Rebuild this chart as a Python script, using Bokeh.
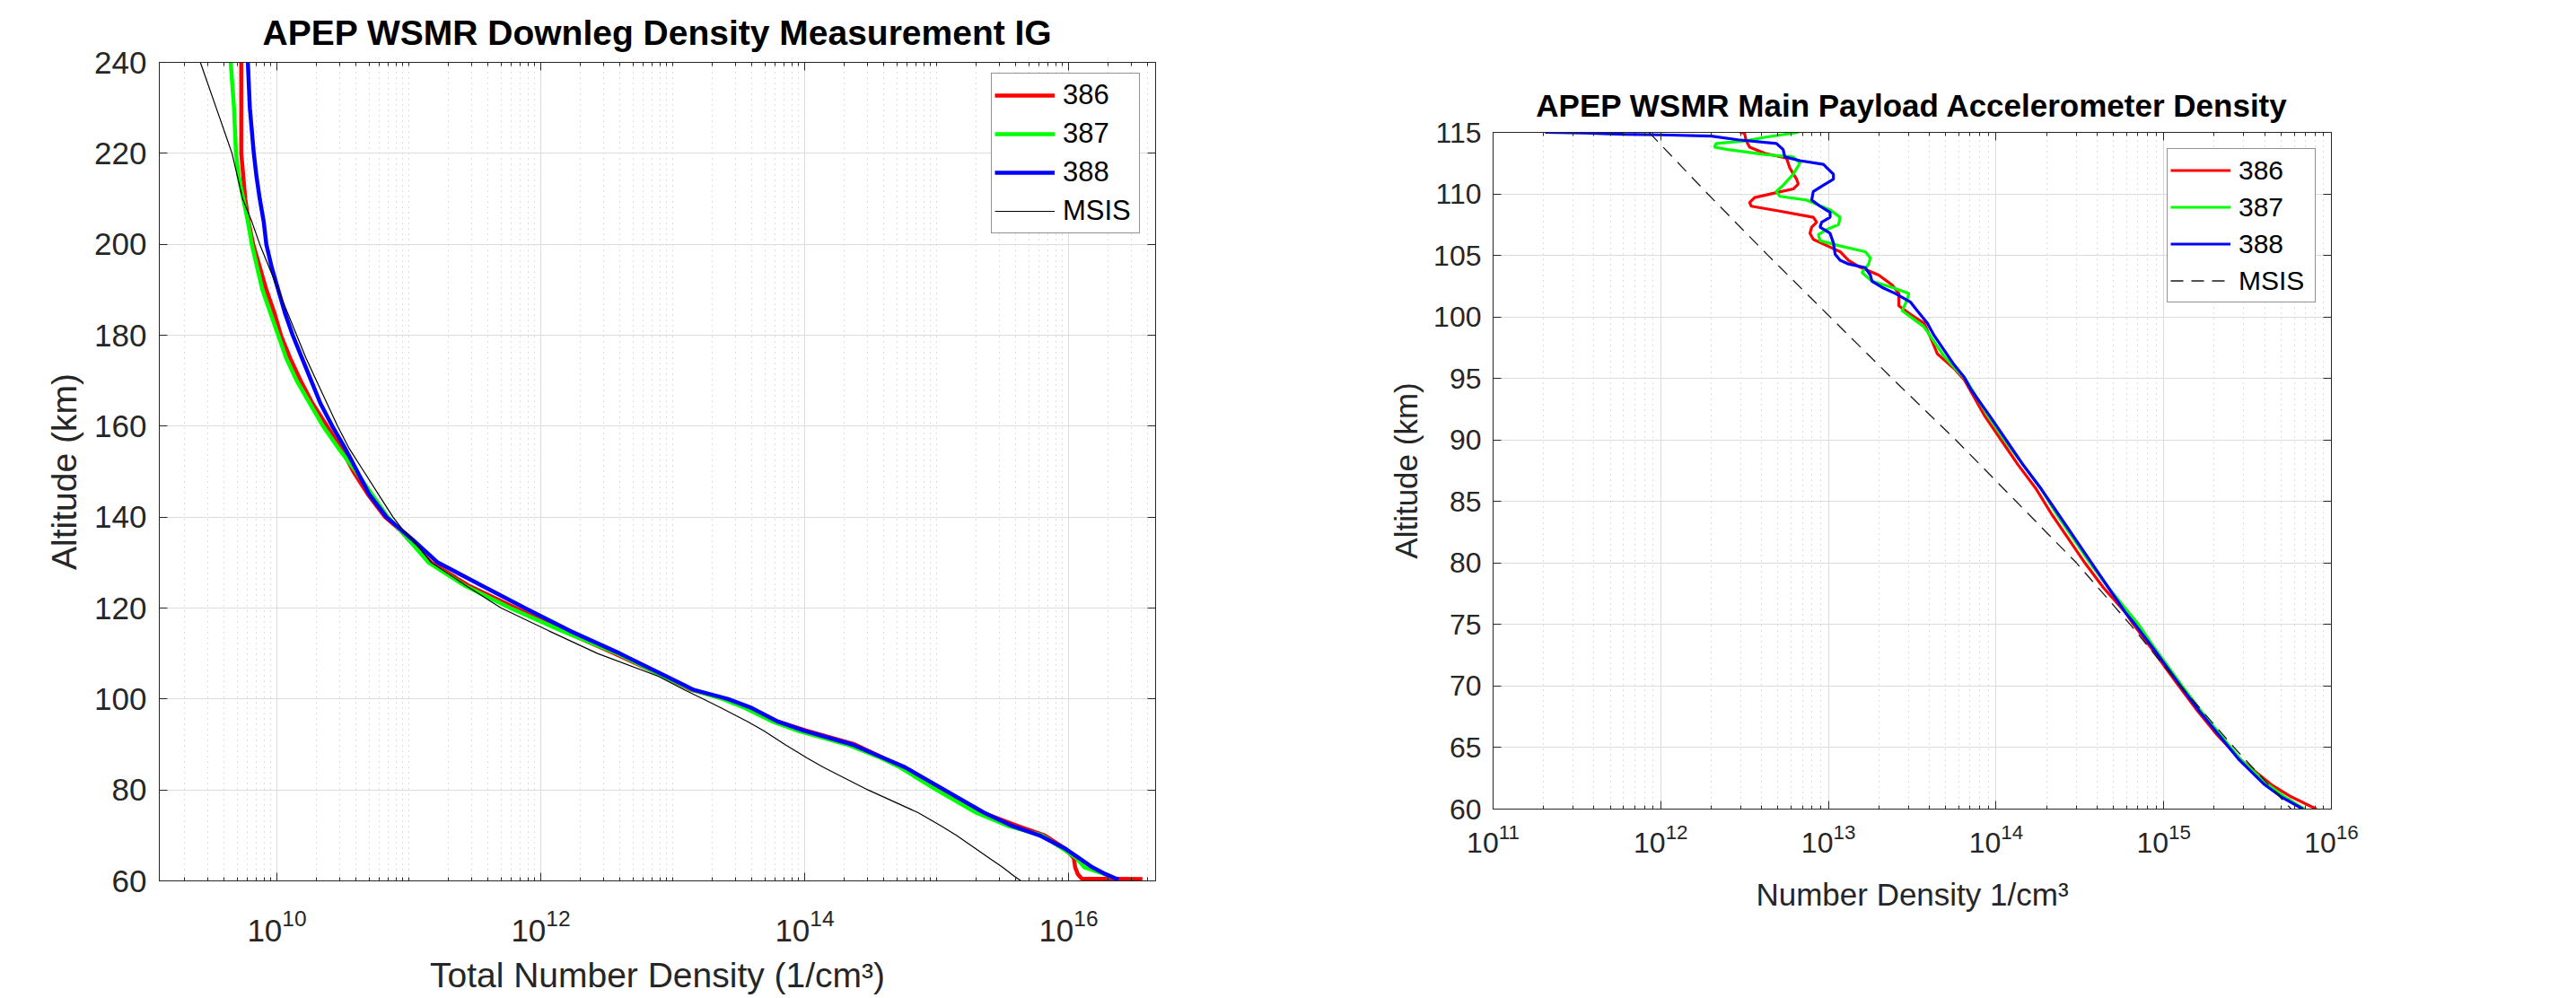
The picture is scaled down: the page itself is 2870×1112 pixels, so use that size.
from bokeh.plotting import figure
from bokeh.models import (Range1d, FixedTicker, LogAxis, LinearAxis, Legend,
                          LegendItem, CustomJSTickFormatter)
from bokeh.layouts import row
from bokeh.embed import file_html
from bokeh.resources import INLINE

FONT = "Liberation Sans"
AX = "#262626"

# ---------------- Left chart: ion gauge downleg density ----------------
# altitude (km) and log10 of total number density (1/cm^3)
ig_alt = [240, 230, 220, 215, 210, 205, 200, 195, 190, 185, 180, 175, 170, 165,
          160, 155, 150, 145, 140, 137, 135, 130, 125, 120, 115, 110, 105, 102,
          100, 98, 95, 93, 90, 87, 85, 80, 75, 72, 70, 67, 65]
ig_log_386 = [9.73, 9.73, 9.73, 9.745, 9.76, 9.785, 9.82, 9.87, 9.92, 9.98, 10.03,
              10.10, 10.18, 10.27, 10.38, 10.49, 10.58, 10.69, 10.82, 10.94, 11.0,
              11.17, 11.45, 11.81, 12.17, 12.56, 12.93, 13.14, 13.40, 13.58, 13.80,
              14.02, 14.38, 14.60, 14.75, 15.04, 15.35, 15.62, 15.82, 15.98, 16.04]
ig_log_387 = [9.65, 9.675, 9.69, 9.71, 9.745, 9.78, 9.81, 9.85, 9.89, 9.95, 10.01,
              10.07, 10.15, 10.25, 10.35, 10.47, 10.60, 10.72, 10.84, 10.94, 11.0,
              11.15, 11.42, 11.77, 12.16, 12.58, 12.93, 13.15, 13.38, 13.55, 13.76,
              13.95, 14.32, 14.58, 14.72, 15.00, 15.30, 15.55, 15.80, 15.96, 16.06]
ig_log_388 = [9.78, 9.795, 9.825, 9.845, 9.87, 9.90, 9.92, 9.96, 10.01, 10.06, 10.12,
              10.19, 10.26, 10.33, 10.42, 10.52, 10.61, 10.70, 10.83, 10.95, 11.03,
              11.22, 11.55, 11.88, 12.22, 12.60, 12.95, 13.16, 13.42, 13.60, 13.80,
              14.00, 14.36, 14.60, 14.76, 15.06, 15.36, 15.58, 15.78, 15.98, 16.08]
# lowest samples (below 65 km) for each flight
ig_tail_alt_386 = [63, 61.5, 60.5, 60.4]
ig_tail_log_386 = [16.05, 16.07, 16.10, 16.56]
ig_tail_alt_387 = [63, 61.2, 60.8]
ig_tail_log_387 = [16.12, 16.30, 16.33]
ig_tail_alt_388 = [63, 61.5, 60.5, 60.3]
ig_tail_log_388 = [16.18, 16.28, 16.36, 16.38]

ig_msis_alt = [240, 230, 220, 215, 210, 205, 200, 195, 190, 185, 180, 175, 170, 165,
               160, 155, 150, 145, 140, 137, 135, 130, 125, 120, 115, 110, 105, 102,
               100, 98, 95, 93, 90, 87, 85, 80, 75, 72, 70, 67, 65, 63, 61, 60]
ig_msis_log = [9.42, 9.54, 9.66, 9.70, 9.74, 9.81, 9.87, 9.94, 10.01, 10.08, 10.15,
               10.22, 10.30, 10.38, 10.46, 10.55, 10.66, 10.77, 10.88, 10.96, 11.03,
               11.17, 11.43, 11.70, 12.06, 12.43, 12.89, 13.09, 13.23, 13.37, 13.57,
               13.69, 13.85, 14.02, 14.14, 14.48, 14.86, 15.04, 15.15, 15.30, 15.40,
               15.50, 15.59, 15.64]

ig_xticks = [1e10, 1e12, 1e14, 1e16]
ig_yticks = [60, 80, 100, 120, 140, 160, 180, 200, 220, 240]

# ---------------- Right chart: accelerometer density ----------------
acc_alt_386 = [115.2, 114.9, 114.3, 113.8, 113.3, 112.9, 112.1, 111.2, 110.8, 110.4,
               110.1, 109.7, 109.3, 109.0, 108.6, 108.1, 107.7, 107.3, 106.8, 106.3,
               105.8, 105.3, 104.6, 104.1, 103.4, 102.6, 101.9, 100.9, 100.2, 99.5,
               98.3, 97.0, 95.8, 94.9, 92, 90, 88, 86, 84, 82, 80, 78, 76, 75, 73,
               70, 68, 66, 64, 62, 61, 60]
acc_log_386 = [12.44, 12.50, 12.51, 12.53, 12.62, 12.75, 12.77, 12.81, 12.82, 12.79,
               12.69, 12.56, 12.53, 12.54, 12.71, 12.91, 12.93, 12.90, 12.89, 12.91,
               12.99, 13.07, 13.12, 13.18, 13.30, 13.38, 13.42, 13.42, 13.49, 13.57,
               13.61, 13.65, 13.75, 13.81, 13.93, 14.03, 14.13, 14.24, 14.33, 14.43,
               14.53, 14.64, 14.77, 14.82, 14.93, 15.09, 15.20, 15.32, 15.46, 15.64,
               15.76, 15.91]
acc_alt_387 = [115.0, 114.6, 114.3, 114.1, 113.8, 113.6, 113.2, 113.0, 112.5, 111.6,
               110.7, 110.2, 109.8, 109.5, 108.7, 108.1, 107.5, 107.1, 106.7, 106.2,
               105.8, 105.3, 104.8, 104.3, 103.6, 102.9, 102.4, 101.9, 101.4, 100.5,
               100.0, 99.2, 98.0, 96.8, 95.6, 94.9, 92, 90, 88, 86, 84, 82, 80, 78,
               76, 75, 73, 70, 68, 66, 64, 62, 61, 60]
acc_log_387 = [12.82, 12.62, 12.50, 12.33, 12.32, 12.40, 12.62, 12.79, 12.83, 12.79,
               12.73, 12.69, 12.71, 12.87, 13.01, 13.07, 13.06, 12.99, 12.94, 12.95,
               13.06, 13.22, 13.25, 13.24, 13.20, 13.26, 13.38, 13.48, 13.47, 13.44,
               13.49, 13.57, 13.63, 13.69, 13.77, 13.82, 13.95, 14.05, 14.16, 14.27,
               14.36, 14.46, 14.56, 14.67, 14.79, 14.85, 14.95, 15.11, 15.22, 15.34,
               15.46, 15.62, 15.72, 15.84]
acc_alt_388 = [115.0, 114.95, 114.85, 114.8, 114.7, 114.4, 114.1, 113.6, 113.0, 112.7,
               112.4, 111.6, 111.2, 110.7, 110.2, 109.5, 109.0, 108.5, 108.1, 107.7,
               107.3, 106.8, 106.0, 105.1, 104.6, 104.3, 104.0, 103.4, 102.9, 102.4,
               101.9, 101.2, 100.5, 99.5, 98.5, 97.3, 96.1, 95.1, 94.1, 92, 90, 88,
               86, 84, 82, 80, 78, 76, 75, 73, 70, 68, 66, 64, 62, 61, 60]
acc_log_388 = [11.31, 11.54, 11.78, 12.0, 12.30, 12.46, 12.69, 12.73, 12.74, 12.83,
               12.97, 13.03, 13.03, 12.97, 12.91, 12.90, 12.95, 13.01, 13.01, 12.96,
               12.95, 13.01, 13.03, 13.04, 13.07, 13.12, 13.22, 13.25, 13.26, 13.32,
               13.40, 13.49, 13.53, 13.59, 13.63, 13.69, 13.75, 13.81, 13.85, 13.96,
               14.06, 14.16, 14.27, 14.37, 14.47, 14.57, 14.67, 14.77, 14.83, 14.94,
               15.10, 15.21, 15.33, 15.45, 15.60, 15.70, 15.83]
acc_msis_alt = [115, 110, 105, 100, 95, 90, 85, 80, 75, 70, 65, 60]
acc_msis_log = [11.93, 12.28, 12.64, 13.01, 13.38, 13.76, 14.12, 14.48, 14.80, 15.10,
                15.42, 15.76]

acc_xticks = [1e11, 1e12, 1e13, 1e14, 1e15, 1e16]
acc_yticks = [60, 65, 70, 75, 80, 85, 90, 95, 100, 105, 110, 115]

series_names = ["386", "387", "388", "MSIS"]
series_colors = ["#ff0000", "#00ff00", "#0000ff", "#000000"]


def dens(logs):
    return [10.0 ** v for v in logs]


def minor_ticks(e_lo, e_hi, majors):
    out = []
    for e in range(e_lo, e_hi + 1):
        for k in range(1, 10):
            t = k * 10.0 ** e
            if t not in majors:
                out.append(t)
    return out


def style(p, xt, yt, tick_px, lab_px, title_px, xstand, ystand, xlab_stand,
          ylab_stand, title_standoff):
    p.xaxis[0].ticker = xt
    p.xgrid[0].ticker = xt
    p.yaxis[0].ticker = yt
    p.ygrid[0].ticker = yt
    p.outline_line_color = AX
    p.outline_line_width = 1
    p.background_fill_color = "white"
    p.border_fill_color = "white"
    for ax in [p.xaxis[0], p.yaxis[0]]:
        ax.major_label_text_font = FONT
        ax.major_label_text_font_size = tick_px
        ax.major_label_text_color = AX
        ax.axis_label_text_font = FONT
        ax.axis_label_text_font_size = lab_px
        ax.axis_label_text_font_style = "normal"
        ax.axis_label_text_color = AX
        ax.axis_line_color = AX
        ax.major_tick_line_color = AX
        ax.minor_tick_line_color = AX
        ax.major_tick_in = 9
        ax.major_tick_out = 0
        ax.minor_tick_in = 4
        ax.minor_tick_out = 0
    p.yaxis[0].minor_tick_line_color = None
    p.xaxis[0].major_label_standoff = xstand
    p.yaxis[0].major_label_standoff = ystand
    p.xaxis[0].axis_label_standoff = xlab_stand
    p.yaxis[0].axis_label_standoff = ylab_stand
    # box ticks on top and right
    top = LogAxis(ticker=xt, formatter=CustomJSTickFormatter(code="return ''"),
                  major_label_text_font_size="0px", major_label_standoff=0,
                  axis_line_color=AX, major_tick_line_color=AX, minor_tick_line_color=AX,
                  major_tick_in=9, major_tick_out=0, minor_tick_in=4, minor_tick_out=0)
    right = LinearAxis(ticker=yt, formatter=CustomJSTickFormatter(code="return ''"),
                       major_label_text_font_size="0px", major_label_standoff=0,
                       axis_line_color=AX, major_tick_line_color=AX,
                       minor_tick_line_color=None,
                       major_tick_in=9, major_tick_out=0)
    p.add_layout(top, "above")
    p.add_layout(right, "right")
    p.xgrid.grid_line_color = "#dcdcdc"
    p.xgrid.grid_line_width = 1
    p.ygrid.grid_line_color = "#dcdcdc"
    p.ygrid.grid_line_width = 1
    p.xgrid.minor_grid_line_color = "#bdbdbd"
    p.xgrid.minor_grid_line_dash = "1 5"
    p.xgrid.minor_grid_line_width = 1
    p.title.text_font = FONT
    p.title.text_font_size = title_px
    p.title.text_font_style = "bold"
    p.title.text_color = "#000000"
    p.title.align = "center"
    p.title.standoff = title_standoff


# ---------------- figure 1 ----------------
xt1 = FixedTicker(ticks=ig_xticks, minor_ticks=minor_ticks(9, 16, ig_xticks))
yt1 = FixedTicker(ticks=ig_yticks, minor_ticks=[])
p1 = figure(width=1408, height=1110, x_axis_type="log",
            x_range=Range1d(1.285e9, 4.57e16), y_range=Range1d(60, 240),
            output_backend="svg", toolbar_location=None, frame_align=False,
            title="APEP WSMR Downleg Density Measurement IG",
            x_axis_label="Total Number Density (1/cm\u00b3)",
            y_axis_label="Altitude (km)",
            min_border_left=177, min_border_right=121, min_border_top=68,
            min_border_bottom=127)
style(p1, xt1, yt1, "35px", "39px", "39px", 31, 14, 13, 9, 24)

r1 = []
for logs, alts, tl, ta, col in [
        (ig_log_386, ig_alt, ig_tail_log_386, ig_tail_alt_386, series_colors[0]),
        (ig_log_387, ig_alt, ig_tail_log_387, ig_tail_alt_387, series_colors[1]),
        (ig_log_388, ig_alt, ig_tail_log_388, ig_tail_alt_388, series_colors[2])]:
    r1.append(p1.line(dens(logs + tl), alts + ta, line_color=col, line_width=4.5))
r1.append(p1.line(dens(ig_msis_log), ig_msis_alt, line_color=series_colors[3],
                  line_width=1.2))

leg1 = Legend(items=[LegendItem(label=n, renderers=[r]) for n, r in zip(series_names, r1)],
              location=(927, 721), margin=0, padding=3, spacing=1,
              glyph_width=67, glyph_height=42, label_height=42, label_width=82,
              label_standoff=9, label_text_font=FONT, label_text_font_size="31px",
              label_text_color="#000000", border_line_color=AX, border_line_width=1,
              background_fill_color="white", background_fill_alpha=1.0)
p1.add_layout(leg1)

# ---------------- figure 2 ----------------
xt2 = FixedTicker(ticks=acc_xticks, minor_ticks=minor_ticks(11, 15, acc_xticks))
yt2 = FixedTicker(ticks=acc_yticks, minor_ticks=[])
p2 = figure(width=1460, height=1110, x_axis_type="log",
            x_range=Range1d(1e11, 1e16), y_range=Range1d(60, 115),
            output_backend="svg", toolbar_location=None, frame_align=False,
            title="APEP WSMR Main Payload Accelerometer Density",
            x_axis_label="Number Density 1/cm\u00b3",
            y_axis_label="Altitude (km)",
            min_border_left=255, min_border_right=271, min_border_top=147,
            min_border_bottom=209)
style(p2, xt2, yt2, "32px", "35px", "35px", 16, 13, 24, 8, 22)

r2 = []
for logs, alts, col in [(acc_log_386, acc_alt_386, series_colors[0]),
                        (acc_log_387, acc_alt_387, series_colors[1]),
                        (acc_log_388, acc_alt_388, series_colors[2])]:
    r2.append(p2.line(dens(logs), alts, line_color=col, line_width=3.2))
r2.append(p2.line(dens(acc_msis_log), acc_msis_alt, line_color="#1a1a1a",
                  line_width=1.3, line_dash="14 9"))

leg2 = Legend(items=[LegendItem(label=n, renderers=[r]) for n, r in zip(series_names, r2)],
              location=(751, 564), margin=0, padding=3, spacing=0,
              glyph_width=67, glyph_height=41, label_height=41, label_width=82,
              label_standoff=9, label_text_font=FONT, label_text_font_size="30px",
              label_text_color="#000000", border_line_color=AX, border_line_width=1,
              background_fill_color="white", background_fill_alpha=1.0)
p2.add_layout(leg2)

layout = row(p1, p2)
open("out.html", "w").write(file_html(layout, INLINE))
